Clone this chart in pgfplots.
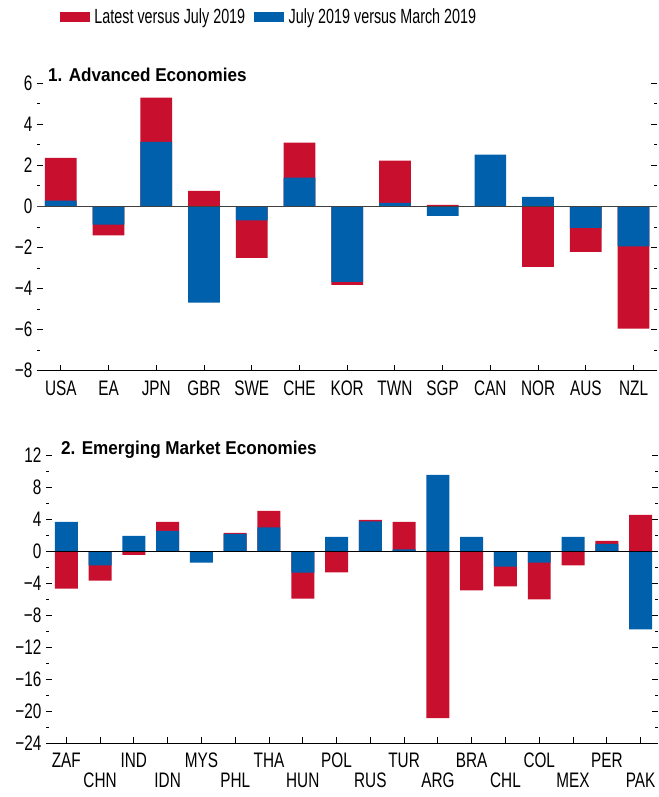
\documentclass[border=0pt]{standalone}
\usepackage{fontspec}
\setmainfont{Liberation Sans}[FakeStretch=0.73, BoldFeatures={FakeStretch=0.92}]
\newfontfamily\legfont{Liberation Sans}[FakeStretch=0.70]
\usepackage{pgfplots}
\usepackage{pgfplotstable}
\pgfplotsset{compat=1.18}
\definecolor{imfred}{RGB}{200,16,46}
\definecolor{imfblue}{RGB}{0,96,172}

% red = end of the "Latest versus July 2019" segment (stacked on blue when same sign)
\pgfplotstableread{
i blue red
0 0.29 2.37
1 -0.88 -1.41
2 3.15 5.30
3 -4.68 0.76
4 -0.68 -2.50
5 1.40 3.11
6 -3.67 -3.82
7 0.18 2.23
8 -0.46 0.08
9 2.52 0
10 0.47 -2.94
11 -1.04 -2.21
12 -1.95 -5.95
}\advdata

\pgfplotstableread{
i blue red
0 3.65 -4.69
1 -1.79 -3.70
2 1.91 -0.46
3 2.53 3.65
4 -1.45 0
5 2.16 2.28
6 2.95 5.02
7 -2.70 -5.94
8 1.79 -2.66
9 3.70 3.90
10 0.21 3.65
11 9.51 -20.85
12 1.79 -4.90
13 -1.95 -4.40
14 -1.45 -6.02
15 1.79 -1.79
16 0.91 1.29
17 -9.76 4.53
}\emdata

\pgfplotsset{
  panel/.style={
    scale only axis,
    axis line style={draw=none},
    tick align=inside,
    xtick pos=left,
    ytick pos=both,
    major tick length=6pt,
    minor tick length=3pt,
    tick style={black, line width=0.9pt},
    ticklabel style={font=\fontsize{21}{25}\selectfont},
    yticklabel style={xshift=-1pt},
    /pgf/number format/assume math mode=true,
    clip=false,
  },
}

\begin{document}
\begin{tikzpicture}
% Panel 1
\begin{axis}[panel,
  at={(37pt,426.3pt)}, anchor=south west,
  width=620.4pt, height=287.4pt,
  xmin=-0.5, xmax=12.5, ymin=-8, ymax=6,
  xtick={0,...,12},
  xticklabel style={yshift=-6.5pt},
  xticklabels={USA,EA,JPN,GBR,SWE,CHE,KOR,TWN,SGP,CAN,NOR,AUS,NZL},
  ytick={-8,-6,-4,-2,0,2,4,6},
  yticklabels={−8,−6,−4,−2,0,2,4,6},
  minor ytick={-7,-5,-3,-1,1,3,5},
  legend columns=2,
  legend style={at={(rel axis cs:0.037,1.2307)}, anchor=west, draw=none, fill=none,
    inner sep=0pt, outer sep=0pt,
    font=\legfont\fontsize{20.5}{24}\selectfont,
    /tikz/every even column/.append style={column sep=7pt}},
]
\addplot[ybar, bar width=0.665, bar shift=0pt, fill=imfred, draw=none,
  legend image code/.code={\fill[imfred] (0pt,-4.7pt) rectangle (30pt,4.7pt); \path (32.5pt,0pt);}]
  table[x=i, y=red] \advdata;
\addlegendentry{Latest versus July 2019}
\addplot[ybar, bar width=0.665, bar shift=0pt, fill=imfblue, draw=none,
  legend image code/.code={\fill[imfblue] (0pt,-4.7pt) rectangle (30pt,4.7pt); \path (32.5pt,0pt);}]
  table[x=i, y=blue] \advdata;
\addlegendentry{July 2019 versus March 2019}
\draw[black!75, line width=1pt] (axis cs:-0.5,0) -- (axis cs:12.5,0);
\draw[black, line width=1.2pt] (rel axis cs:0,0) -- (rel axis cs:1,0);
\node[anchor=base west, inner sep=0pt, font=\bfseries\fontsize{18.6}{22}\selectfont]
  at (rel axis cs:0.0177,1.0056) {1. Advanced Economies};
\end{axis}

% Panel 2
\begin{axis}[panel,
  at={(46pt,53.7pt)}, anchor=south west,
  width=611.5pt, height=288.3pt,
  xmin=-0.6, xmax=17.5, ymin=-24, ymax=12,
  xtick={0,2,...,16},
  xticklabel style={yshift=-6pt},
  xticklabels={ZAF,IND,MYS,THA,POL,TUR,BRA,COL,PER},
  extra x ticks={1,3,...,17},
  extra x tick labels={CHN,IDN,PHL,HUN,RUS,ARG,CHL,MEX,PAK},
  extra x tick style={xticklabel style={yshift=-20pt}},
  ytick={-24,-20,...,12},
  yticklabels={−24,−20,−16,−12,−8,−4,0,4,8,12},
  minor ytick={-22,-18,...,10},
]
\addplot[ybar, bar width=0.68, bar shift=0pt, fill=imfred, draw=none]
  table[x=i, y=red] \emdata;
\addplot[ybar, bar width=0.68, bar shift=0pt, fill=imfblue, draw=none]
  table[x=i, y=blue] \emdata;
\draw[black, line width=1pt] (axis cs:-0.6,0) -- (axis cs:17.5,0);
\draw[black, line width=1.2pt] (rel axis cs:0,0) -- (rel axis cs:1,0);
\node[anchor=base west, inner sep=0pt, font=\bfseries\fontsize{18.6}{22}\selectfont]
  at (rel axis cs:0.0245,1.002) {2. Emerging Market Economies};
\end{axis}
\pgfresetboundingbox
\useasboundingbox (0pt,0pt) rectangle (658pt,797pt);
\end{tikzpicture}
\end{document}
